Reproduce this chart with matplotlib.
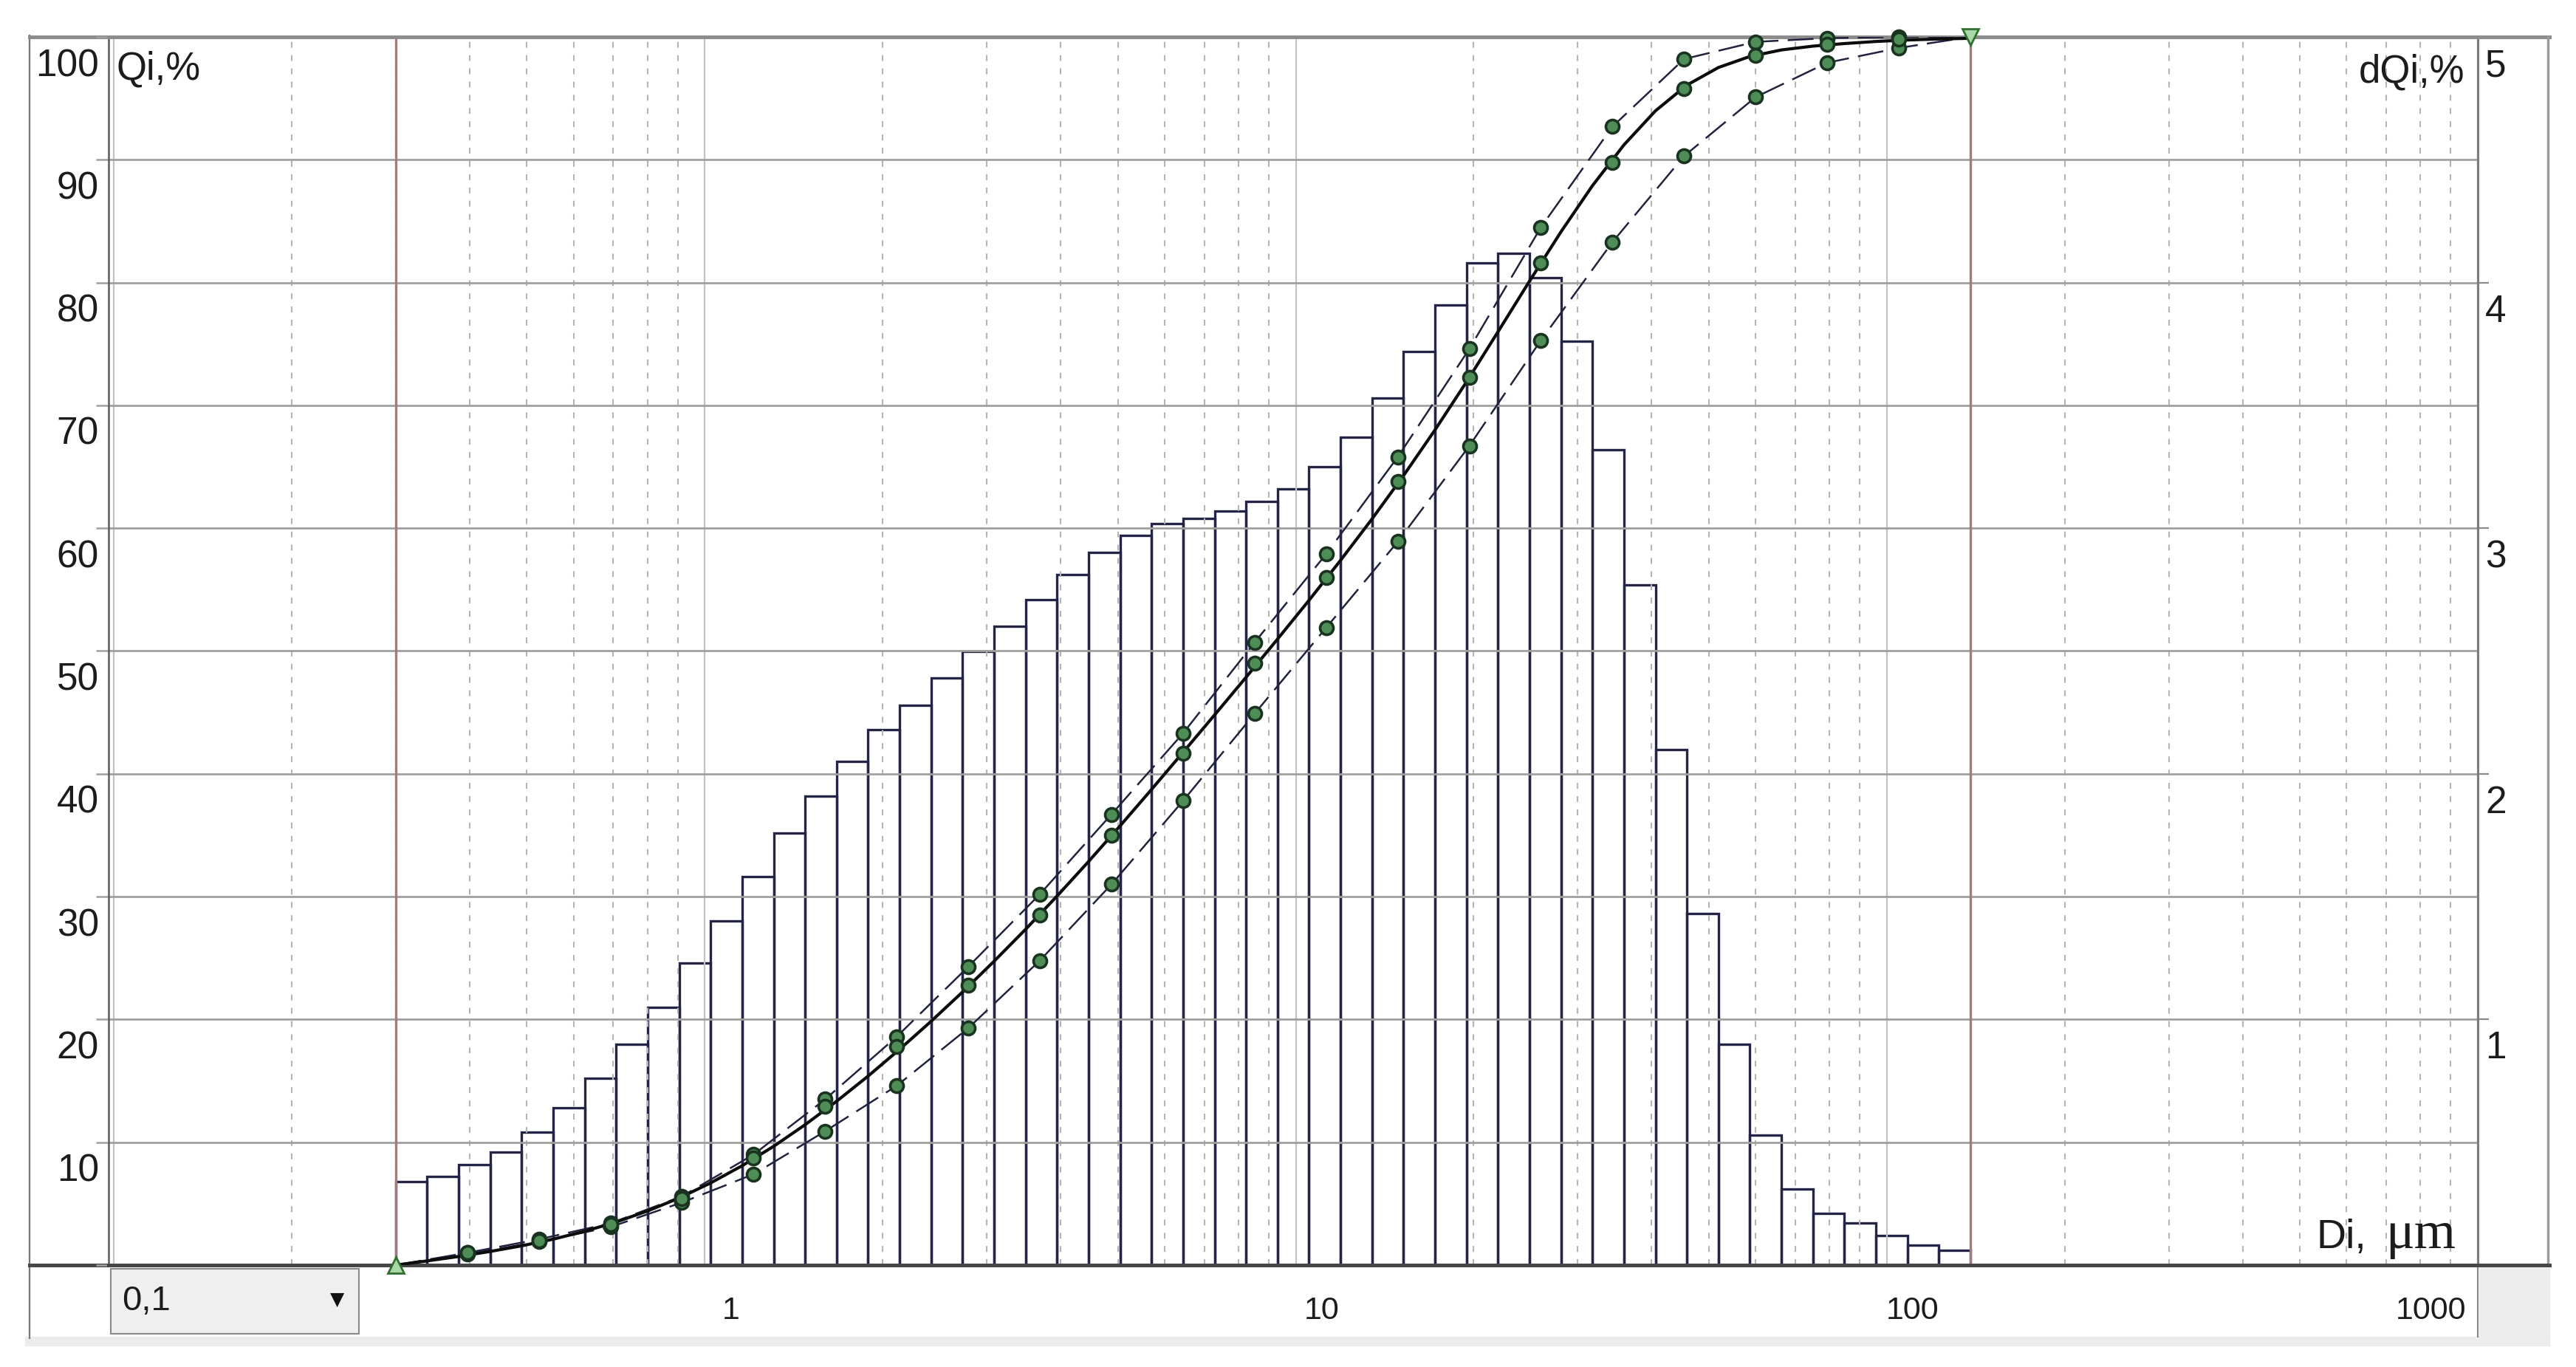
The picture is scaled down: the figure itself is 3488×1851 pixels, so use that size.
import numpy as np
import matplotlib.pyplot as plt
from matplotlib.ticker import FixedLocator, LogLocator, NullFormatter
from matplotlib.transforms import ScaledTranslation, blended_transform_factory
from matplotlib.patches import Rectangle

# analysis range (the two red lines), um
d_min, d_max = 0.3, 138.5

# differential distribution dQi, % per class (50 log-spaced classes)
dq = [0.34, 0.36, 0.41, 0.46, 0.54, 0.64, 0.76, 0.90, 1.05, 1.23,
      1.40, 1.58, 1.76, 1.91, 2.05, 2.18, 2.28, 2.39, 2.50, 2.60,
      2.71, 2.81, 2.90, 2.97, 3.02, 3.04, 3.07, 3.11, 3.16, 3.25,
      3.37, 3.53, 3.72, 3.91, 4.08, 4.12, 4.02, 3.76, 3.32, 2.77,
      2.10, 1.43, 0.90, 0.53, 0.31, 0.21, 0.17, 0.12, 0.08, 0.06]

# cumulative Qi, % at the 23 marker sizes
q_upper = [0, 1.0, 2.1, 3.4, 5.6, 9.0, 13.5, 18.6, 24.3, 30.2, 36.7, 43.3,
           50.7, 57.9, 65.8, 74.6, 84.5, 92.7, 98.2, 99.6, 99.9, 100, 100]
q_main = [0, 1.0, 2.0, 3.3, 5.4, 8.7, 12.9, 17.8, 22.8, 28.5, 35.0, 41.7,
          49.0, 56.0, 63.8, 72.3, 81.6, 89.8, 95.8, 98.5, 99.4, 99.8, 100]
q_lower = [0, 0.9, 1.9, 3.1, 5.1, 7.4, 10.9, 14.6, 19.3, 24.8, 31.0, 37.8,
           44.9, 51.9, 58.9, 66.7, 75.3, 83.3, 90.3, 95.1, 97.9, 99.1, 100]

left_ticks = [10, 20, 30, 40, 50, 60, 70, 80, 90, 100]
right_ticks = [1, 2, 3, 4, 5]
x_ticks = [1, 10, 100, 1000]
x_labels = ['1', '10', '100', '1000']

W, H, DPI = 3488, 1851, 100
narrow = ['Liberation Sans Narrow', 'Liberation Sans', 'DejaVu Sans']
sans = ['Liberation Sans', 'DejaVu Sans']
serif = ['Liberation Serif', 'DejaVu Serif']
plt.rcParams['font.family'] = sans
TXT = '#1c1c1c'


def fx(x):
    return x / W


def fy(y):
    return 1 - y / H


fig = plt.figure(figsize=(W / DPI, H / DPI), dpi=DPI)
fig.patch.set_facecolor('white')


def off(dx, dy):
    return ScaledTranslation(dx / DPI, dy / DPI, fig.dpi_scale_trans)


ax = fig.add_axes([fx(147), fy(1713), (3355 - 147) / W, (1713 - 50) / H])
ax2 = ax.twinx()
ax.set_zorder(2)
ax2.set_zorder(1)
ax.patch.set_visible(False)

# histogram on the right axis (dQi)
edges = np.geomspace(d_min, d_max, len(dq) + 1)
ax2.bar(edges[:-1], dq, width=np.diff(edges), align='edge', fill=False,
        edgecolor='#242446', linewidth=2.4)
ax2.set_ylim(0, 5)
ax2.set_yticks(range(6))
ax2.tick_params(axis='y', direction='out', length=11, width=1.6,
                color='#8a8a8a', labelright=False)
for s in ax2.spines.values():
    s.set_visible(False)

ax.set_xscale('log')
ax.set_xlim(0.098, 1000)
ax.set_ylim(0, 100)

# grid
ax.xaxis.set_major_locator(FixedLocator([0.1, 1, 10, 100, 1000]))
ax.xaxis.set_minor_locator(LogLocator(base=10, subs=np.arange(2, 10), numticks=30))
ax.xaxis.set_major_formatter(NullFormatter())
ax.xaxis.set_minor_formatter(NullFormatter())
ax.tick_params(axis='x', which='both', length=0)
ax.set_yticks(range(0, 101, 10))
ax.yaxis.set_major_formatter(NullFormatter())
ax.tick_params(axis='y', direction='out', length=12, width=1.8, color='#a0a0a0')
ax.grid(True, axis='y', color='#a0a0a0', lw=2.0)
ax.grid(True, axis='x', which='major', color='#c2c2c2', lw=1.6)
ax.grid(True, axis='x', which='minor', color='#b4b4b4', lw=1.5, ls=(0, (3.8, 4.8)))

ax.spines['top'].set(color='#8c8c8c', lw=3.6)
ax.spines['bottom'].set(color='#474747', lw=3.6)
ax.spines['left'].set(color='#5a5a5a', lw=1.8)
ax.spines['right'].set(color='#7c7c7c', lw=2.2)

# range limits
for d in (d_min, d_max):
    ax.axvline(d, color='#a67a7a', lw=2.4, zorder=2)

# cumulative curves
cum = np.concatenate([[0], np.cumsum(dq)])
xm = np.geomspace(d_min, d_max, len(q_main))
ax.plot(xm, q_upper, color='#22223e', lw=1.8, ls=(0, (14, 5)), zorder=3)
ax.plot(xm, q_lower, color='#22223e', lw=1.8, ls=(0, (14, 5)), zorder=3)
ax.plot(edges, cum, color='#0c0c0c', lw=3.0, zorder=4)
for q in (q_upper, q_lower, q_main):
    ax.plot(xm[1:-1], q[1:-1], ls='none', marker='o', ms=13, mfc='#4e8e56',
            mec='#1a3320', mew=2.6, zorder=5, clip_on=False)
ax.plot(xm[0], q_main[0], marker='^', ms=16, mfc='#a8d8a8', mec='#2f6f2f',
        mew=2, zorder=6, clip_on=False)
ax.plot(xm[-1], q_main[-1], marker='v', ms=16, mfc='#a8d8a8', mec='#2f6f2f',
        mew=2, zorder=6, clip_on=False)

# tick labels
ytr = blended_transform_factory(ax.transAxes, ax.transData)
for v in left_ticks:
    ax.text(0, v, str(v), transform=ytr + off(-13, -15), ha='right', va='top',
            fontsize=37, family=narrow, color=TXT)
ytr2 = blended_transform_factory(ax2.transAxes, ax2.transData)
for v in right_ticks:
    ax2.text(1, v, str(v), transform=ytr2 + off(10, -15), ha='left', va='top',
             fontsize=37, family=narrow, color=TXT)
xtr = blended_transform_factory(ax.transData, ax.transAxes)
for v, lab in zip(x_ticks, x_labels):
    if v == x_ticks[-1]:
        ax.text(v, 0, lab, transform=xtr + off(-16, -42), ha='right', va='top',
                fontsize=31, color=TXT)
    else:
        ax.text(v, 0, lab, transform=xtr + off(35, -42), ha='center', va='top',
                fontsize=31, color=TXT)

# axis titles
ax.text(0, 1, 'Qi,%', transform=ax.transAxes + off(11, -18), ha='left', va='top',
        fontsize=38, color=TXT)
ax.text(1, 1, 'dQi,%', transform=ax.transAxes + off(-18, -22), ha='right', va='top',
        fontsize=38, color=TXT)
ax.text(1, 0, 'Di,', transform=ax.transAxes + off(3136 - 3355, 23), ha='left',
        va='baseline', fontsize=40, family=narrow, color=TXT)
ax.text(1, 0, '\u03bcm', transform=ax.transAxes + off(3325 - 3355, 23), ha='right',
        va='baseline', fontsize=52, family=serif, color=TXT)

# window frame around the plot
tf = fig.transFigure
fig.add_artist(plt.Line2D([fx(40), fx(40)], [fy(48), fy(1812)], color='#777777', lw=1.6))
fig.add_artist(plt.Line2D([fx(40), fx(3452)], [fy(50), fy(50)], color='#8c8c8c', lw=3.6))
fig.add_artist(plt.Line2D([fx(3450), fx(3450)], [fy(50), fy(1713)], color='#9a9a9a', lw=2.5))
fig.add_artist(plt.Line2D([fx(40), fx(3452)], [fy(1713), fy(1713)], color='#474747', lw=3.6))
fig.add_artist(plt.Line2D([fx(3355), fx(3355)], [fy(1713), fy(1810)], color='#8a8a8a', lw=1.6))
fig.add_artist(Rectangle((fx(3357), fy(1820)), (3452 - 3357) / W, (1820 - 1716) / H,
                         transform=tf, color='#ececec', zorder=0))
fig.add_artist(Rectangle((fx(34), fy(1822)), (3452 - 34) / W, 12 / H,
                         transform=tf, color='#ececec', zorder=0))
# dropdown box
fig.add_artist(Rectangle((fx(150), fy(1806)), (486 - 150) / W, (1806 - 1718) / H,
                         transform=tf, facecolor='#efefef', edgecolor='#8a8a8a', lw=1.5))
fig.text(fx(165), fy(1762), '0,1', ha='left', va='center', fontsize=34,
         family=narrow, color=TXT)
fig.text(fx(457), fy(1760), '\u25bc', ha='center', va='center', fontsize=18,
         family='DejaVu Sans', color='#111111')

fig.savefig('out.png', dpi=DPI)
